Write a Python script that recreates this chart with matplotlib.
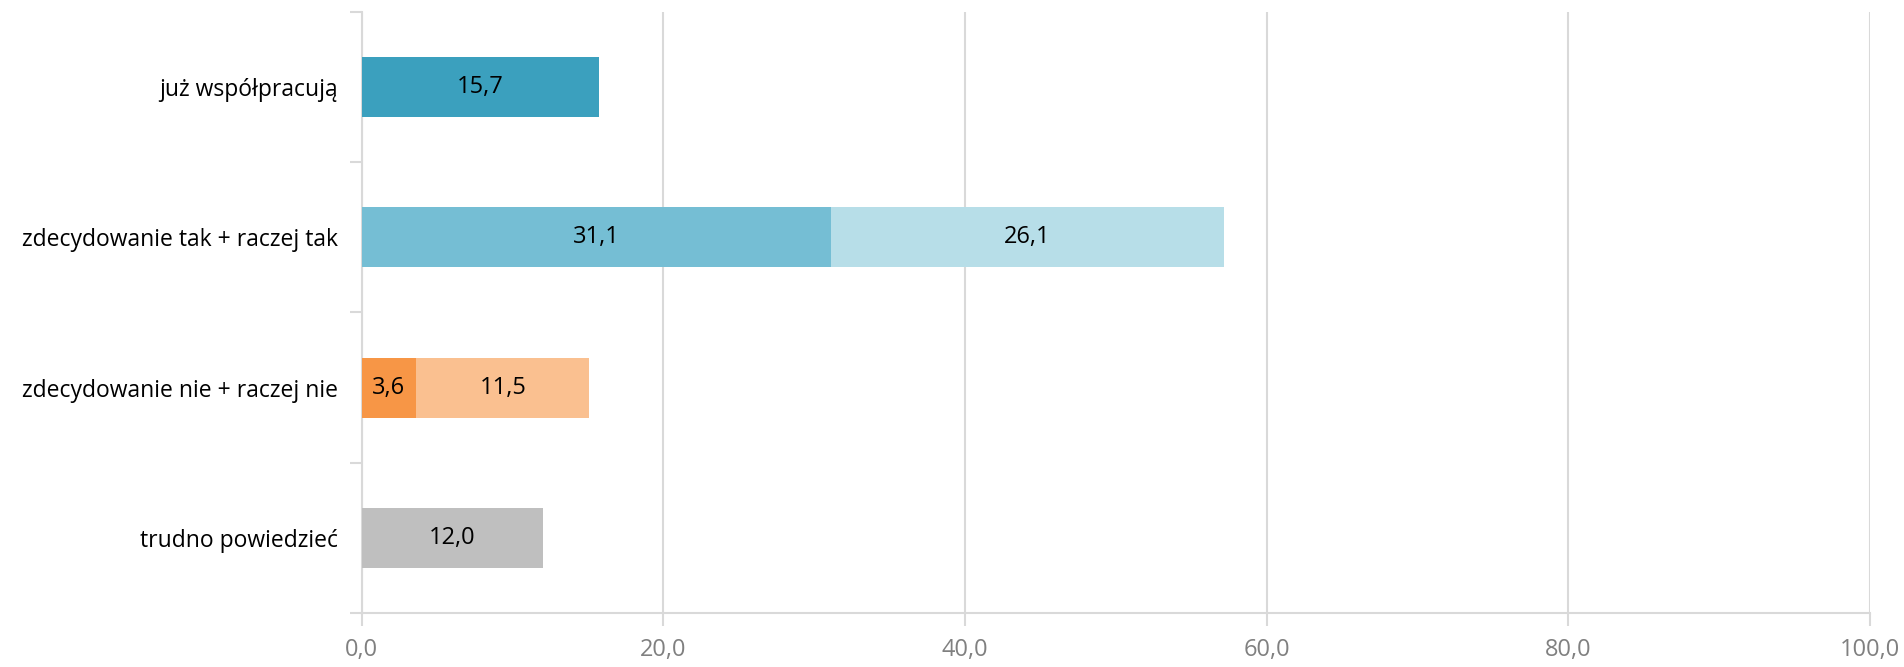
import numpy as np
import matplotlib
matplotlib.use("Agg")
import matplotlib.pyplot as plt
from matplotlib.ticker import FuncFormatter, FixedLocator

# Data
categories = ["już współpracują", "zdecydowanie tak + raczej tak",
              "zdecydowanie nie + raczej nie", "trudno powiedzieć"]
first_part = [15.7, 31.1, 3.6, 12.0]
second_part = [0.0, 26.1, 11.5, 0.0]
first_colors = ["#3BA0BE", "#75BED4", "#F79646", "#BFBFBF"]
second_colors = ["#B7DEE8", "#B7DEE8", "#FAC090", "#BFBFBF"]
x_ticks = [0, 20, 40, 60, 80, 100]

plt.rcParams['font.family'] = ['Open Sans', 'DejaVu Sans']

fig = plt.figure(figsize=(19.04, 6.67), dpi=100)
ax = fig.add_axes([0.190, 0.081, 0.792, 0.901])

y = np.arange(len(categories))
bar_h = 0.4

ax.barh(y, first_part, height=bar_h, color=first_colors, zorder=3)
ax.barh(y, second_part, left=first_part, height=bar_h, color=second_colors, zorder=3)


def fmt(v):
    return f"{v:.1f}".replace(".", ",")


for i in range(len(categories)):
    ax.text(first_part[i] / 2, y[i], fmt(first_part[i]), ha="center", va="center",
            fontsize=17, color="black", zorder=4)
    if second_part[i] > 0:
        ax.text(first_part[i] + second_part[i] / 2, y[i], fmt(second_part[i]),
                ha="center", va="center", fontsize=17, color="black", zorder=4)

ax.set_xlim(0, 100)
ax.set_ylim(len(categories) - 0.5, -0.5)
ax.xaxis.set_major_locator(FixedLocator(x_ticks))
ax.xaxis.set_major_formatter(FuncFormatter(lambda v, p: fmt(v)))
ax.set_yticks(y)
ax.set_yticklabels(categories)
ax.yaxis.set_minor_locator(FixedLocator(np.arange(len(categories) + 1) - 0.5))

ax.grid(axis="x", color="#D9D9D9", linewidth=1.5, zorder=0)
for side in ["top", "right"]:
    ax.spines[side].set_visible(False)
for side in ["left", "bottom"]:
    ax.spines[side].set_color("#D9D9D9")
    ax.spines[side].set_linewidth(1.5)

ax.tick_params(axis="x", colors="#D9D9D9", labelcolor="#808080", labelsize=17,
               length=9, width=1.5, pad=9)
ax.tick_params(axis="y", which="major", length=0, labelsize=16.5, labelcolor="black", pad=17)
ax.tick_params(axis="y", which="minor", length=9, width=1.5, color="#D9D9D9")

fig.savefig("out.png", dpi=100)
